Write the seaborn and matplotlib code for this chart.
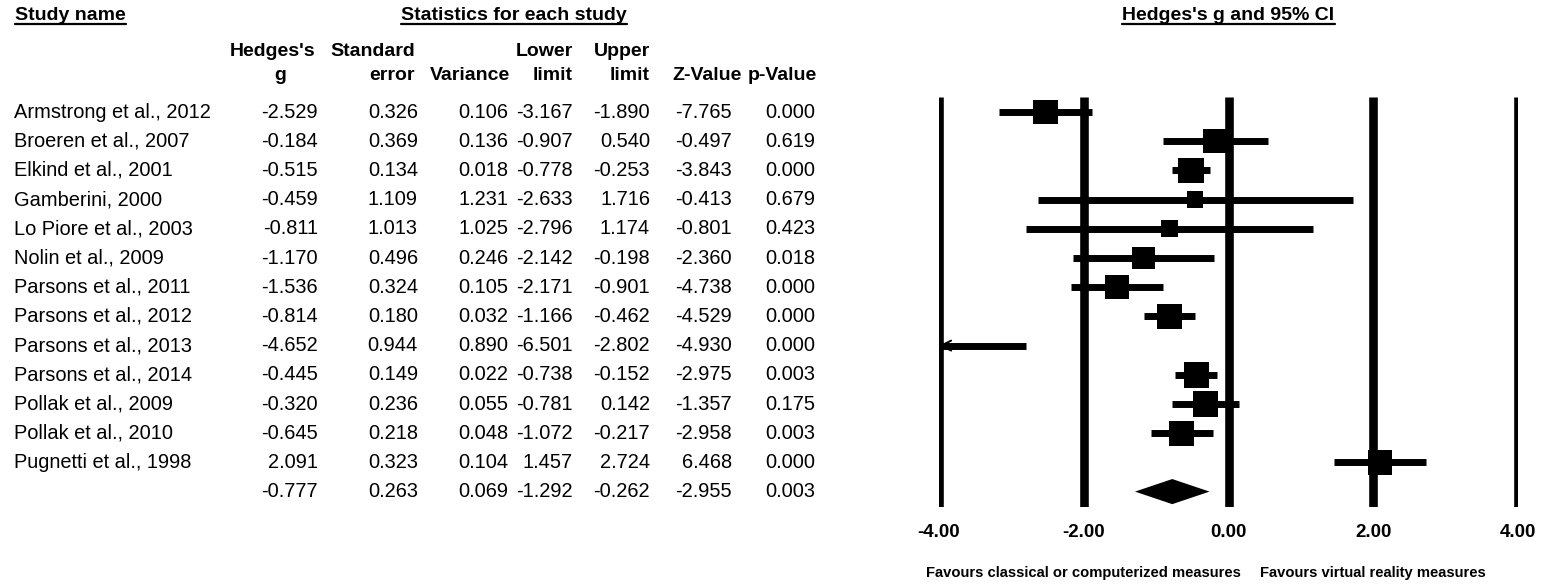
import numpy as np
import pandas as pd
import matplotlib
matplotlib.use("Agg")
import matplotlib.pyplot as plt
import seaborn as sns
from matplotlib.lines import Line2D
from matplotlib.transforms import blended_transform_factory

# ---------------- data ----------------
studies = ["Armstrong et al., 2012", "Broeren et al., 2007", "Elkind et al., 2001",
           "Gamberini, 2000", "Lo Piore et al., 2003", "Nolin et al., 2009",
           "Parsons et al., 2011", "Parsons et al., 2012", "Parsons et al., 2013",
           "Parsons et al., 2014", "Pollak et al., 2009", "Pollak et al., 2010",
           "Pugnetti et al., 1998"]
hedges_g = [-2.529, -0.184, -0.515, -0.459, -0.811, -1.170, -1.536, -0.814, -4.652,
            -0.445, -0.320, -0.645, 2.091]
std_err = [0.326, 0.369, 0.134, 1.109, 1.013, 0.496, 0.324, 0.180, 0.944,
           0.149, 0.236, 0.218, 0.323]
variance = [0.106, 0.136, 0.018, 1.231, 1.025, 0.246, 0.105, 0.032, 0.890,
            0.022, 0.055, 0.048, 0.104]
lower = [-3.167, -0.907, -0.778, -2.633, -2.796, -2.142, -2.171, -1.166, -6.501,
         -0.738, -0.781, -1.072, 1.457]
upper = [-1.890, 0.540, -0.253, 1.716, 1.174, -0.198, -0.901, -0.462, -2.802,
         -0.152, 0.142, -0.217, 2.724]
z_value = [-7.765, -0.497, -3.843, -0.413, -0.801, -2.360, -4.738, -4.529, -4.930,
           -2.975, -1.357, -2.958, 6.468]
p_value = [0.000, 0.619, 0.000, 0.679, 0.423, 0.018, 0.000, 0.000, 0.000,
           0.003, 0.175, 0.003, 0.000]
rel_weight = [8.5, 8.2, 9.4, 3.8, 4.2, 7.4, 8.5, 9.3, 4.6, 9.4, 9.0, 9.1, 8.5]

summary = {"g": -0.777, "se": 0.263, "var": 0.069, "lower": -1.292,
           "upper": -0.262, "z": -2.955, "p": 0.003}

col_head1 = ["Hedges's", "Standard", "", "Lower", "Upper", "", ""]
col_head2 = ["g", "error", "Variance", "limit", "limit", "Z-Value", "p-Value"]
x_ticks = [-4.0, -2.0, 0.0, 2.0, 4.0]
x_ticklabels = ["-4.00", "-2.00", "0.00", "2.00", "4.00"]
favours_left = "Favours classical or computerized measures"
favours_right = "Favours virtual reality measures"

# ---------------- style ----------------
sns.set_theme(style="white")
plt.rcParams["font.family"] = ["Liberation Sans", "DejaVu Sans"]
plt.rcParams["text.color"] = "black"
plt.rcParams["xtick.color"] = "black"
plt.rcParams["xtick.labelcolor"] = "black"

W, H = 1542, 585
fig = plt.figure(figsize=(W / 100, H / 100), dpi=100)

def fx(px):
    return px / W

def fy(py):
    return 1 - py / H

row0_y, row_step = 112, 29.2
n = len(studies)

# ---------------- table ----------------
body_fs = 14.4
val_right = [318, 418, 508, 573, 650, 732, 815]
head_right = [315, 415, 510, 573, 650, 742, 817]
cols = [hedges_g, std_err, variance, lower, upper, z_value, p_value]
for i in range(n):
    y = row0_y + row_step * i
    fig.text(fx(14), fy(y), studies[i], fontsize=body_fs, ha="left", va="center")
    for c, xr in enumerate(val_right):
        fig.text(fx(xr), fy(y), f"{cols[c][i]:.3f}", fontsize=body_fs,
                 ha="right", va="center")
ys = row0_y + row_step * n
for c, key in enumerate(["g", "se", "var", "lower", "upper", "z", "p"]):
    fig.text(fx(val_right[c]), fy(ys), f"{summary[key]:.3f}", fontsize=body_fs,
             ha="right", va="center")

hfs = 14
h1_y, h2_y = 52, 75
for c, xr in enumerate(head_right):
    if col_head1[c]:
        fig.text(fx(xr), fy(h1_y), col_head1[c], fontsize=hfs, fontweight="bold",
                 ha="right", va="center")
    if c == 0:
        fig.text(fx(280), fy(h2_y), col_head2[c], fontsize=hfs, fontweight="bold",
                 ha="center", va="center")
    else:
        fig.text(fx(xr), fy(h2_y), col_head2[c], fontsize=hfs, fontweight="bold",
                 ha="right", va="center")

titles = [
    fig.text(fx(15), fy(16), "Study name", fontsize=14, fontweight="bold",
             ha="left", va="center"),
    fig.text(fx(514), fy(16), "Statistics for each study", fontsize=14,
             fontweight="bold", ha="center", va="center"),
]

# ---------------- forest plot ----------------
x_left, x_right = 939, 1518
top_px, bot_px = 97, 507
ax = fig.add_axes([fx(x_left), fy(bot_px), (x_right - x_left) / W, (bot_px - top_px) / H])
ax.set_xlim(-4, 4)
ax.set_ylim((bot_px - row0_y) / row_step, -(row0_y - top_px) / row_step)
for s in ax.spines.values():
    s.set_visible(False)
ax.set_yticks([])
ax.set_facecolor("none")

for xv in x_ticks:
    ax.axvline(xv, color="black", lw=6.2, zorder=1, solid_capstyle="butt")

df = pd.DataFrame({"study": studies, "g": hedges_g, "lower": lower, "upper": upper,
                   "w": rel_weight, "row": np.arange(n)})
vis = df[(df.g >= -4) & (df.g <= 4)]
ax.hlines(df.row, df.lower.clip(-4, 4), df.upper.clip(-4, 4), color="black",
          lw=5.0, zorder=2)
side_pt_ref = 17.5  # marker side in points for weight 8.5
k = side_pt_ref ** 2 / 8.5
sns.scatterplot(data=vis, x="g", y="row", size="w", marker="s", color="black",
                sizes=(k * vis.w.min(), k * vis.w.max()),
                size_norm=(vis.w.min(), vis.w.max()), legend=False,
                linewidth=0, ax=ax, zorder=3)
# arrows for intervals running off the scale
for _, r in df[df.lower < -4].iterrows():
    ax.annotate("", xy=(-4, r.row), xytext=(-3.6, r.row),
                arrowprops=dict(arrowstyle="->", color="black", lw=1.4,
                                mutation_scale=18, shrinkA=0, shrinkB=0), zorder=4)

# summary diamond
d_h = 0.43
ax.fill([summary["lower"], summary["g"], summary["upper"], summary["g"]],
        [n, n - d_h, n, n + d_h], color="black", lw=0, zorder=3)

ax.set_xticks(x_ticks)
ax.set_xticklabels(x_ticklabels, fontsize=13.5, fontweight="bold")
ax.tick_params(axis="x", length=0, pad=12)
ax.set_xlabel("")
ax.set_ylabel("")

tr = blended_transform_factory(ax.transData, fig.transFigure)
ax.text(-2, fy(573), favours_left, transform=tr, fontsize=10.6, fontweight="bold",
        ha="center", va="center")
ax.text(2, fy(573), favours_right, transform=tr, fontsize=10.6, fontweight="bold",
        ha="center", va="center")
titles.append(ax.text(0, fy(16), "Hedges's g and 95% CI", transform=tr, fontsize=14,
                      fontweight="bold", ha="center", va="center"))

# underline titles
fig.canvas.draw()
r = fig.canvas.get_renderer()
for t in titles:
    bb = t.get_window_extent(renderer=r)
    yline = bb.y0 + 1
    fig.add_artist(Line2D([bb.x0 / W, bb.x1 / W], [yline / H, yline / H],
                          transform=fig.transFigure, color="black", lw=1.6))

fig.savefig("out.png", dpi=100)
